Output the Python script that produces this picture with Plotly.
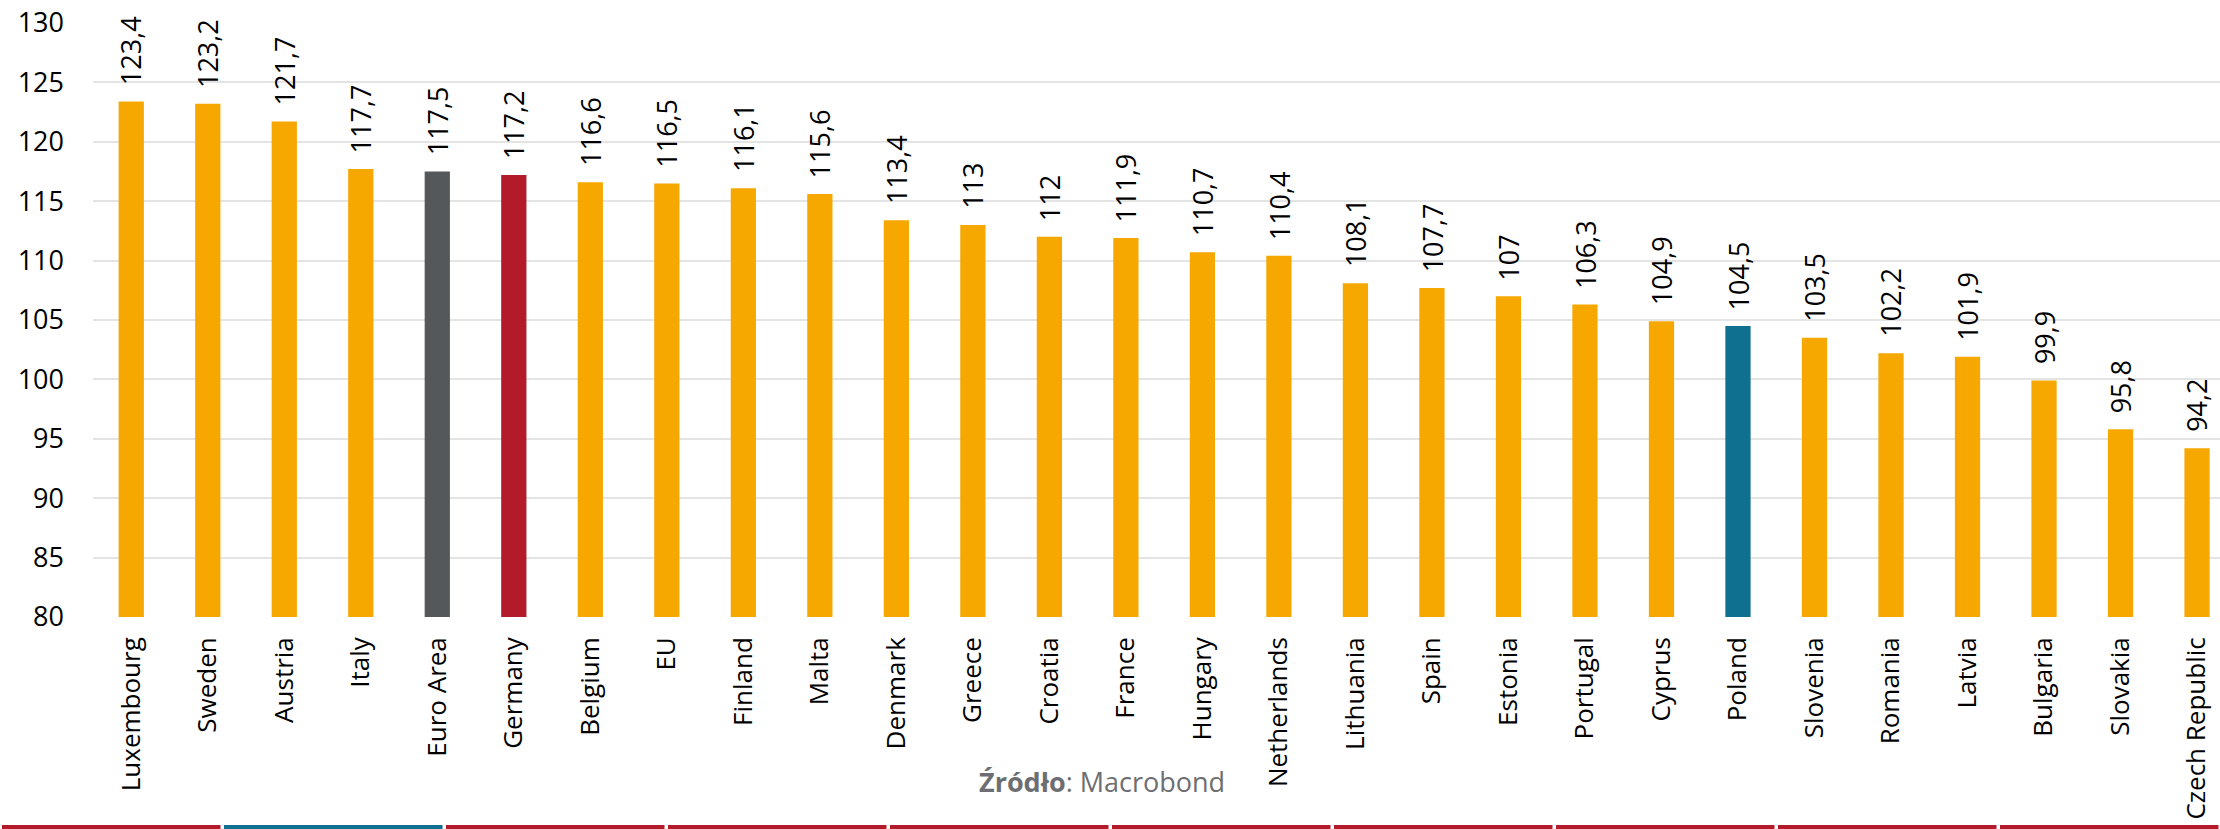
import plotly.graph_objects as go

# ---- data ----
countries = ["Luxembourg", "Sweden", "Austria", "Italy", "Euro Area", "Germany", "Belgium", "EU",
             "Finland", "Malta", "Denmark", "Greece", "Croatia", "France", "Hungary", "Netherlands",
             "Lithuania", "Spain", "Estonia", "Portugal", "Cyprus", "Poland", "Slovenia", "Romania",
             "Latvia", "Bulgaria", "Slovakia", "Czech Republic"]
values = [123.4, 123.2, 121.7, 117.7, 117.5, 117.2, 116.6, 116.5, 116.1, 115.6, 113.4, 113, 112,
          111.9, 110.7, 110.4, 108.1, 107.7, 107, 106.3, 104.9, 104.5, 103.5, 102.2, 101.9, 99.9,
          95.8, 94.2]
y_ticks = [80, 85, 90, 95, 100, 105, 110, 115, 120, 125, 130]
highlight = {"Euro Area": "#54585A", "Germany": "#B31B2B", "Poland": "#0F7090"}
default_color = "#F6A800"
source_text = "<b>Źródło</b>: Macrobond"
footer_colors = ["#B31B2B", "#0F7090", "#B31B2B", "#B31B2B", "#B31B2B",
                 "#B31B2B", "#B31B2B", "#B31B2B", "#B31B2B", "#B31B2B"]

# ---- layout constants (pixels) ----
W, H = 2220, 829
ML, MR, MT, MB = 93, 0, 23, 212
PW = W - ML - MR
PH = H - MT - MB
FONT = "Open Sans"


def fmt(v):
    s = f"{v:g}"
    return s.replace(".", ",")


colors = [highlight.get(c, default_color) for c in countries]

fig = go.Figure()
fig.add_trace(go.Bar(
    x=countries, y=values,
    marker=dict(color=colors, line=dict(width=0)),
    width=0.33,
    hoverinfo="x+y",
))

annotations = []
for c, v in zip(countries, values):
    annotations.append(dict(
        x=c, y=v, xref="x", yref="y",
        text=fmt(v), showarrow=False, textangle=-90,
        xanchor="center", yanchor="bottom", yshift=14,
        font=dict(family=FONT, size=27, color="#000000"),
    ))


def px_to_paper_x(px):
    return (px - ML) / PW


def px_to_paper_y(py):
    return (MT + PH - py) / PH


annotations.append(dict(
    x=px_to_paper_x(1227), y=px_to_paper_y(781), xref="paper", yref="paper",
    text=source_text, showarrow=False, xanchor="right", yanchor="middle",
    font=dict(family=FONT, size=27, color="#6D6E71"),
))

shapes = []
seg_w = W / len(footer_colors)
for k, col in enumerate(footer_colors):
    x0 = k * seg_w + 2
    x1 = (k + 1) * seg_w - 1.5
    shapes.append(dict(
        type="rect", xref="paper", yref="paper",
        x0=px_to_paper_x(x0), x1=px_to_paper_x(x1),
        y0=px_to_paper_y(830), y1=px_to_paper_y(825),
        fillcolor=col, line=dict(width=0), layer="above",
    ))

fig.update_layout(
    width=W, height=H, autosize=False,
    margin=dict(l=ML, r=MR, t=MT, b=MB, pad=0, autoexpand=False),
    paper_bgcolor="white", plot_bgcolor="white",
    showlegend=False,
    annotations=annotations,
    shapes=shapes,
    font=dict(family=FONT, color="#000000"),
    xaxis=dict(
        range=[-0.5, 27.3], tickangle=-90, tickfont=dict(size=26, family=FONT, color="#000000"),
        showgrid=False, showline=False, zeroline=False, ticks="", ticklabelstandoff=14,
        automargin=False,
    ),
    yaxis=dict(
        range=[80, 130], tickvals=y_ticks, ticktext=[str(t) for t in y_ticks],
        tickfont=dict(size=27, family=FONT, color="#000000"),
        showgrid=True, gridcolor="#E4E4E4", gridwidth=2, zeroline=False,
        showline=False, ticks="", ticklabelstandoff=28, automargin=False,
    ),
)

fig.write_html(
    "out.html",
    config={"displayModeBar": False},
    post_script="document.body.style.margin='0';document.body.style.overflow='hidden';",
)
